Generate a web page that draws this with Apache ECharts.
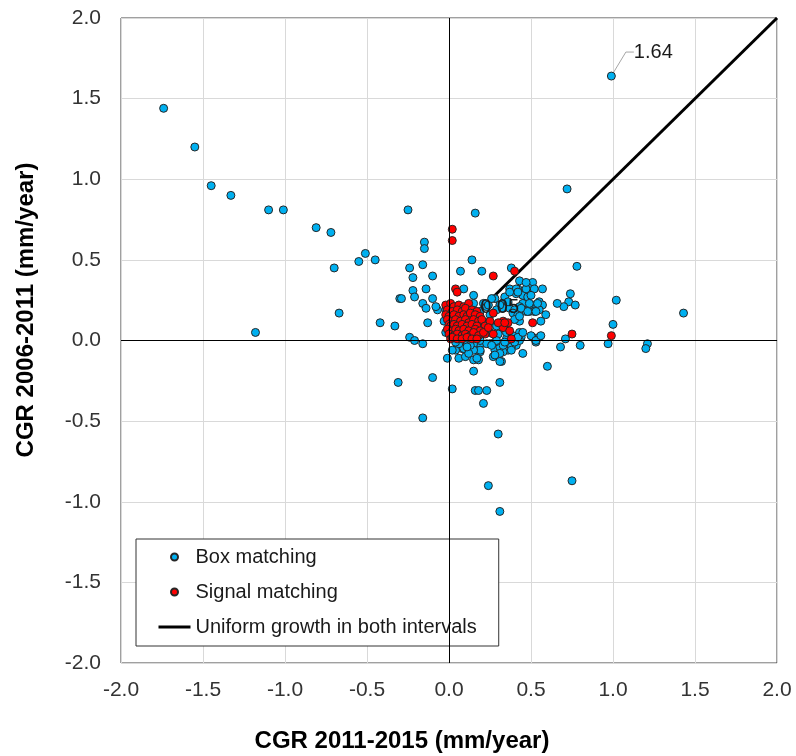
<!DOCTYPE html>
<html>
<head>
<meta charset="utf-8">
<script src="https://cdn.jsdelivr.net/npm/echarts@6/dist/echarts.min.js"></script>
<style>
  html, body { margin: 0; padding: 0; background: #fff; }
  #chart { width: 796px; height: 756px; }
</style>
</head>
<body>
<div id="chart"></div>
<script>
// Cumulative growth rate per site: [CGR 2011-2015, CGR 2006-2011] in mm/year
const boxMatching = [
  [-1.74,1.44],[-1.55,1.20],[-1.45,0.96],[-1.33,0.90],[-1.10,0.81],[-1.01,0.81],[-0.81,0.70],[-0.72,0.67],
  [-0.70,0.45],[-0.51,0.54],[-0.55,0.49],[-0.45,0.50],[-0.67,0.17],[-0.42,0.11],[-0.33,0.09],[-1.18,0.05],[-0.30,0.26],
  [-0.25,0.81],[0.16,0.79],[-0.15,0.61],[-0.15,0.57],[-0.16,0.47],[-0.24,0.45],[-0.22,0.39],[-0.10,0.40],
  [0.14,0.50],[0.07,0.43],[0.20,0.43],[-0.22,0.31],[-0.14,0.32],[0.09,0.32],
  [0.72,0.94],[0.78,0.46],[0.38,0.45],[0.43,0.37],[0.51,0.36],[0.37,0.32],[0.42,0.32],[0.48,0.33],[0.57,0.32],
  [0.74,0.29],[0.73,0.24],[0.70,0.21],[0.77,0.22],[0.66,0.23],[1.02,0.25],[1.43,0.17],[1.00,0.10],
  [0.71,0.01],[0.68,-0.04],[0.80,-0.03],[0.97,-0.02],[1.21,-0.02],[1.20,-0.05],
  [-0.24,0.02],[-0.21,0.00],[-0.16,-0.02],[-0.01,-0.11],[-0.31,-0.26],[-0.10,-0.23],[0.02,-0.30],[-0.16,-0.48],
  [0.15,-0.19],[0.06,-0.11],[0.10,-0.10],[0.15,-0.12],[0.18,-0.12],[0.16,-0.31],[0.18,-0.31],[0.23,-0.31],
  [0.21,-0.39],[0.31,-0.26],[0.30,-0.58],[0.24,-0.90],[0.31,-1.06],[0.75,-0.87],[0.60,-0.16],
  [0.51,0.02],[0.55,0.02],[0.53,-0.01],[0.45,-0.08],[0.32,-0.13],[0.27,-0.10],[0.36,-0.06],[0.33,-0.07],
  [0.41,-0.03],[0.38,-0.04],[0.28,-0.06],[0.31,-0.04],[0.25,-0.02],[0.19,-0.07],[0.16,-0.03],[0.19,-0.02],
  [0.08,-0.05],[0.08,-0.03],[0.44,0.02],[0.43,0.05],[0.28,-0.01],
  [0.45,0.28],[0.41,0.32],[0.55,0.24],[0.57,0.22],[0.52,0.22],[0.49,0.22],[0.45,0.23],[0.43,0.21],[0.47,0.18],
  [0.49,0.18],[0.52,0.18],[0.55,0.19],[0.59,0.16],[0.56,0.12],[0.34,0.25],[0.36,0.23],[0.33,0.20],[0.37,0.20],
  [0.40,0.19],[0.39,0.17],[0.42,0.16],[0.43,0.12],[0.40,0.13],[0.43,0.00],[0.40,-0.01],[0.35,0.01],[0.33,-0.03],
  [0.50,0.03],[0.53,0.00],[0.56,0.03],
  [-0.21,0.27],[-0.29,0.26],[-0.16,0.23],[-0.10,0.26],[-0.14,0.20],[-0.07,0.19],[-0.08,0.21],[-0.13,0.11],
  [-0.02,0.19],[-0.03,0.12],[-0.02,0.05],
  [0.15,0.23],[0.21,0.23],[0.23,0.21],[0.28,0.26],[0.31,0.22],[0.34,0.27],[0.36,0.24],[0.41,0.29],[0.37,0.30],
  [0.42,0.30],[0.47,0.32],[0.47,0.36],[0.52,0.32],[0.48,0.27],[0.50,0.28],[0.54,0.23],[0.49,0.23],[0.44,0.20],
  [0.48,0.18],[0.53,0.18],[0.43,0.15],
  [0.19,0.13],[0.23,0.11],[0.29,0.09],[0.32,0.11],[0.25,0.05],[0.30,0.04],[0.35,0.05],[0.39,0.03],[0.42,0.02],
  [0.45,0.05],[0.19,0.00],[0.15,-0.02],[0.23,-0.02],[0.29,0.00],[0.34,-0.01],[0.38,-0.06],[0.31,-0.08],
  [0.19,-0.06],[0.15,-0.06],[0.09,-0.05],[0.12,-0.08],[0.17,-0.11],[0.04,-0.06],[0.02,-0.06],
  [0.16,0.07],[0.21,0.10],[0.19,0.18],[0.25,0.16],[0.15,0.28],[0.24,0.22],[0.29,0.19],[0.26,0.26],
  [0.06,-0.02],[0.11,-0.01],[0.13,-0.03],[0.04,-0.01],[0.11,-0.04],[0.26,-0.03],[0.28,-0.09],[0.31,-0.13]
];

const signalMatching = [
  [0.02,0.69],[0.02,0.62],[0.27,0.40],[0.40,0.43],[0.04,0.32],[0.05,0.30],[0.75,0.04],[0.99,0.03],
  [0.51,0.11],[0.33,0.12],[0.36,0.11],[0.33,0.08],[0.37,0.06],[0.38,0.01],[0.27,0.17],
  [-0.02,0.22],[0.01,0.23],[0.03,0.21],[0.06,0.22],[0.09,0.21],[0.12,0.23],
  [-0.01,0.19],[0.02,0.18],[0.05,0.19],[0.08,0.18],[0.10,0.20],[0.14,0.19],[0.17,0.18],
  [-0.02,0.16],[0.00,0.15],[0.03,0.16],[0.06,0.15],[0.09,0.16],[0.11,0.15],[0.13,0.17],[0.16,0.16],[0.19,0.15],
  [-0.01,0.13],[0.02,0.12],[0.04,0.13],[0.07,0.12],[0.10,0.13],[0.12,0.11],[0.15,0.13],[0.18,0.12],[0.20,0.13],
  [0.00,0.10],[0.01,0.09],[0.03,0.10],[0.05,0.09],[0.08,0.10],[0.11,0.09],[0.14,0.10],[0.17,0.09],[0.22,0.09],
  [-0.01,0.07],[0.02,0.06],[0.04,0.07],[0.06,0.06],[0.09,0.07],[0.12,0.06],[0.16,0.07],[0.19,0.06],
  [0.00,0.04],[0.03,0.03],[0.05,0.04],[0.08,0.03],[0.10,0.04],[0.13,0.03],[0.15,0.05],[0.18,0.03],[0.22,0.04],[0.27,0.04],
  [0.01,0.01],[0.02,0.02],[0.05,0.01],[0.08,0.01],[0.11,0.02],[0.14,0.01],[0.17,0.01],
  [0.25,0.12],[0.30,0.11],[0.21,0.05],[0.34,0.11],[0.24,0.08]
];

// Points carrying a value callout, with the text shown next to each
const calloutPoints = [[0.99, 1.64], [0.01, 0.05]];
const calloutTexts = ['1.64', '0.05'];

// Reference line: equal growth rate in both periods
const uniformGrowth = [[0, 0], [2, 2]];

const axisTicks = [-2.0, -1.5, -1.0, -0.5, 0.0, 0.5, 1.0, 1.5, 2.0];

const FONT = "'Liberation Sans', Arial, sans-serif";
const TITLE_FONT = "bold 24px 'Liberation Sans', Arial, sans-serif";
const dotStyle = (fill) => ({ color: fill, borderColor: '#262626', borderWidth: 1, opacity: 1 });

const chart = echarts.init(document.getElementById('chart'), null, { renderer: 'canvas' });

const axisCommon = {
  type: 'value',
  min: axisTicks[0],
  max: axisTicks[axisTicks.length - 1],
  interval: 0.5,
  axisLine: { show: false },
  axisTick: { show: false },
  splitLine: { show: true, lineStyle: { color: '#d9d9d9', width: 1 } },
  axisLabel: {
    fontFamily: FONT,
    fontSize: 21,
    color: '#333',
    formatter: (v) => v.toFixed(1)
  }
};

chart.setOption({
  animation: false,
  backgroundColor: '#fff',
  grid: {
    left: 121, top: 18, width: 656, height: 645,
    show: true, borderColor: '#404040', borderWidth: 1, backgroundColor: 'transparent'
  },
  xAxis: Object.assign({}, axisCommon, {
    axisLabel: Object.assign({}, axisCommon.axisLabel, { margin: 17 })
  }),
  yAxis: Object.assign({}, axisCommon, {
    axisLabel: Object.assign({}, axisCommon.axisLabel, { margin: 20 })
  }),
  legend: {
    orient: 'vertical',
    left: 136,
    top: 539,
    padding: [8, 22, 9, 21],
    itemGap: 15,
    itemWidth: 32,
    itemHeight: 7,
    borderColor: '#333',
    borderWidth: 1,
    backgroundColor: '#fff',
    textStyle: { fontFamily: FONT, fontSize: 20, color: '#1a1a1a' },
    data: [
      { name: 'Box matching', icon: 'circle' },
      { name: 'Signal matching', icon: 'circle' },
      {
        name: 'Uniform growth in both intervals',
        itemStyle: { color: 'transparent', borderColor: 'transparent', borderWidth: 0, opacity: 0 },
        lineStyle: { color: '#000', width: 3 }
      }
    ]
  },
  graphic: [
    {
      type: 'text',
      x: 402, y: 741,
      style: {
        text: 'CGR 2011-2015 (mm/year)',
        font: TITLE_FONT,
        fill: '#000', textAlign: 'center', textVerticalAlign: 'middle'
      }
    },
    {
      type: 'text',
      x: 26, y: 310,
      rotation: Math.PI / 2,
      style: {
        text: 'CGR 2006-2011 (mm/year)',
        font: TITLE_FONT,
        fill: '#000', textAlign: 'center', textVerticalAlign: 'middle'
      }
    }
  ],
  series: [
    {
      name: 'Uniform growth in both intervals',
      type: 'line',
      z: 1,
      data: uniformGrowth,
      symbol: 'none',
      showSymbol: false,
      lineStyle: { color: '#000', width: 3 },
      itemStyle: { color: '#000' },
      markLine: {
        silent: true,
        symbol: ['none', 'none'],
        label: { show: false },
        lineStyle: { color: '#000', width: 1, type: 'solid' },
        data: [{ xAxis: 0 }, { yAxis: 0 }]
      }
    },
    {
      name: 'Box matching',
      type: 'scatter',
      z: 2,
      symbol: 'circle',
      symbolSize: 8,
      itemStyle: dotStyle('#00b0f0'),
      data: boxMatching
    },
    {
      name: 'Box matching',
      type: 'scatter',
      z: 2,
      symbol: 'circle',
      symbolSize: 8,
      itemStyle: dotStyle('#00b0f0'),
      data: calloutPoints,
      label: {
        show: true,
        position: 'right',
        fontFamily: FONT,
        fontSize: 20,
        color: '#1a1a1a',
        formatter: (p) => calloutTexts[p.dataIndex]
      },
      labelLayout: (p) => ({ dx: p.dataIndex === 0 ? 13 : 20, dy: p.dataIndex === 0 ? -24 : -25 }),
      labelLine: { show: true, length2: 8, lineStyle: { color: '#a6a6a6', width: 1 } }
    },
    {
      name: 'Signal matching',
      type: 'scatter',
      z: 3,
      symbol: 'circle',
      symbolSize: 8,
      itemStyle: dotStyle('#ff0000'),
      data: signalMatching
    }
  ]
});
</script>
</body>
</html>
